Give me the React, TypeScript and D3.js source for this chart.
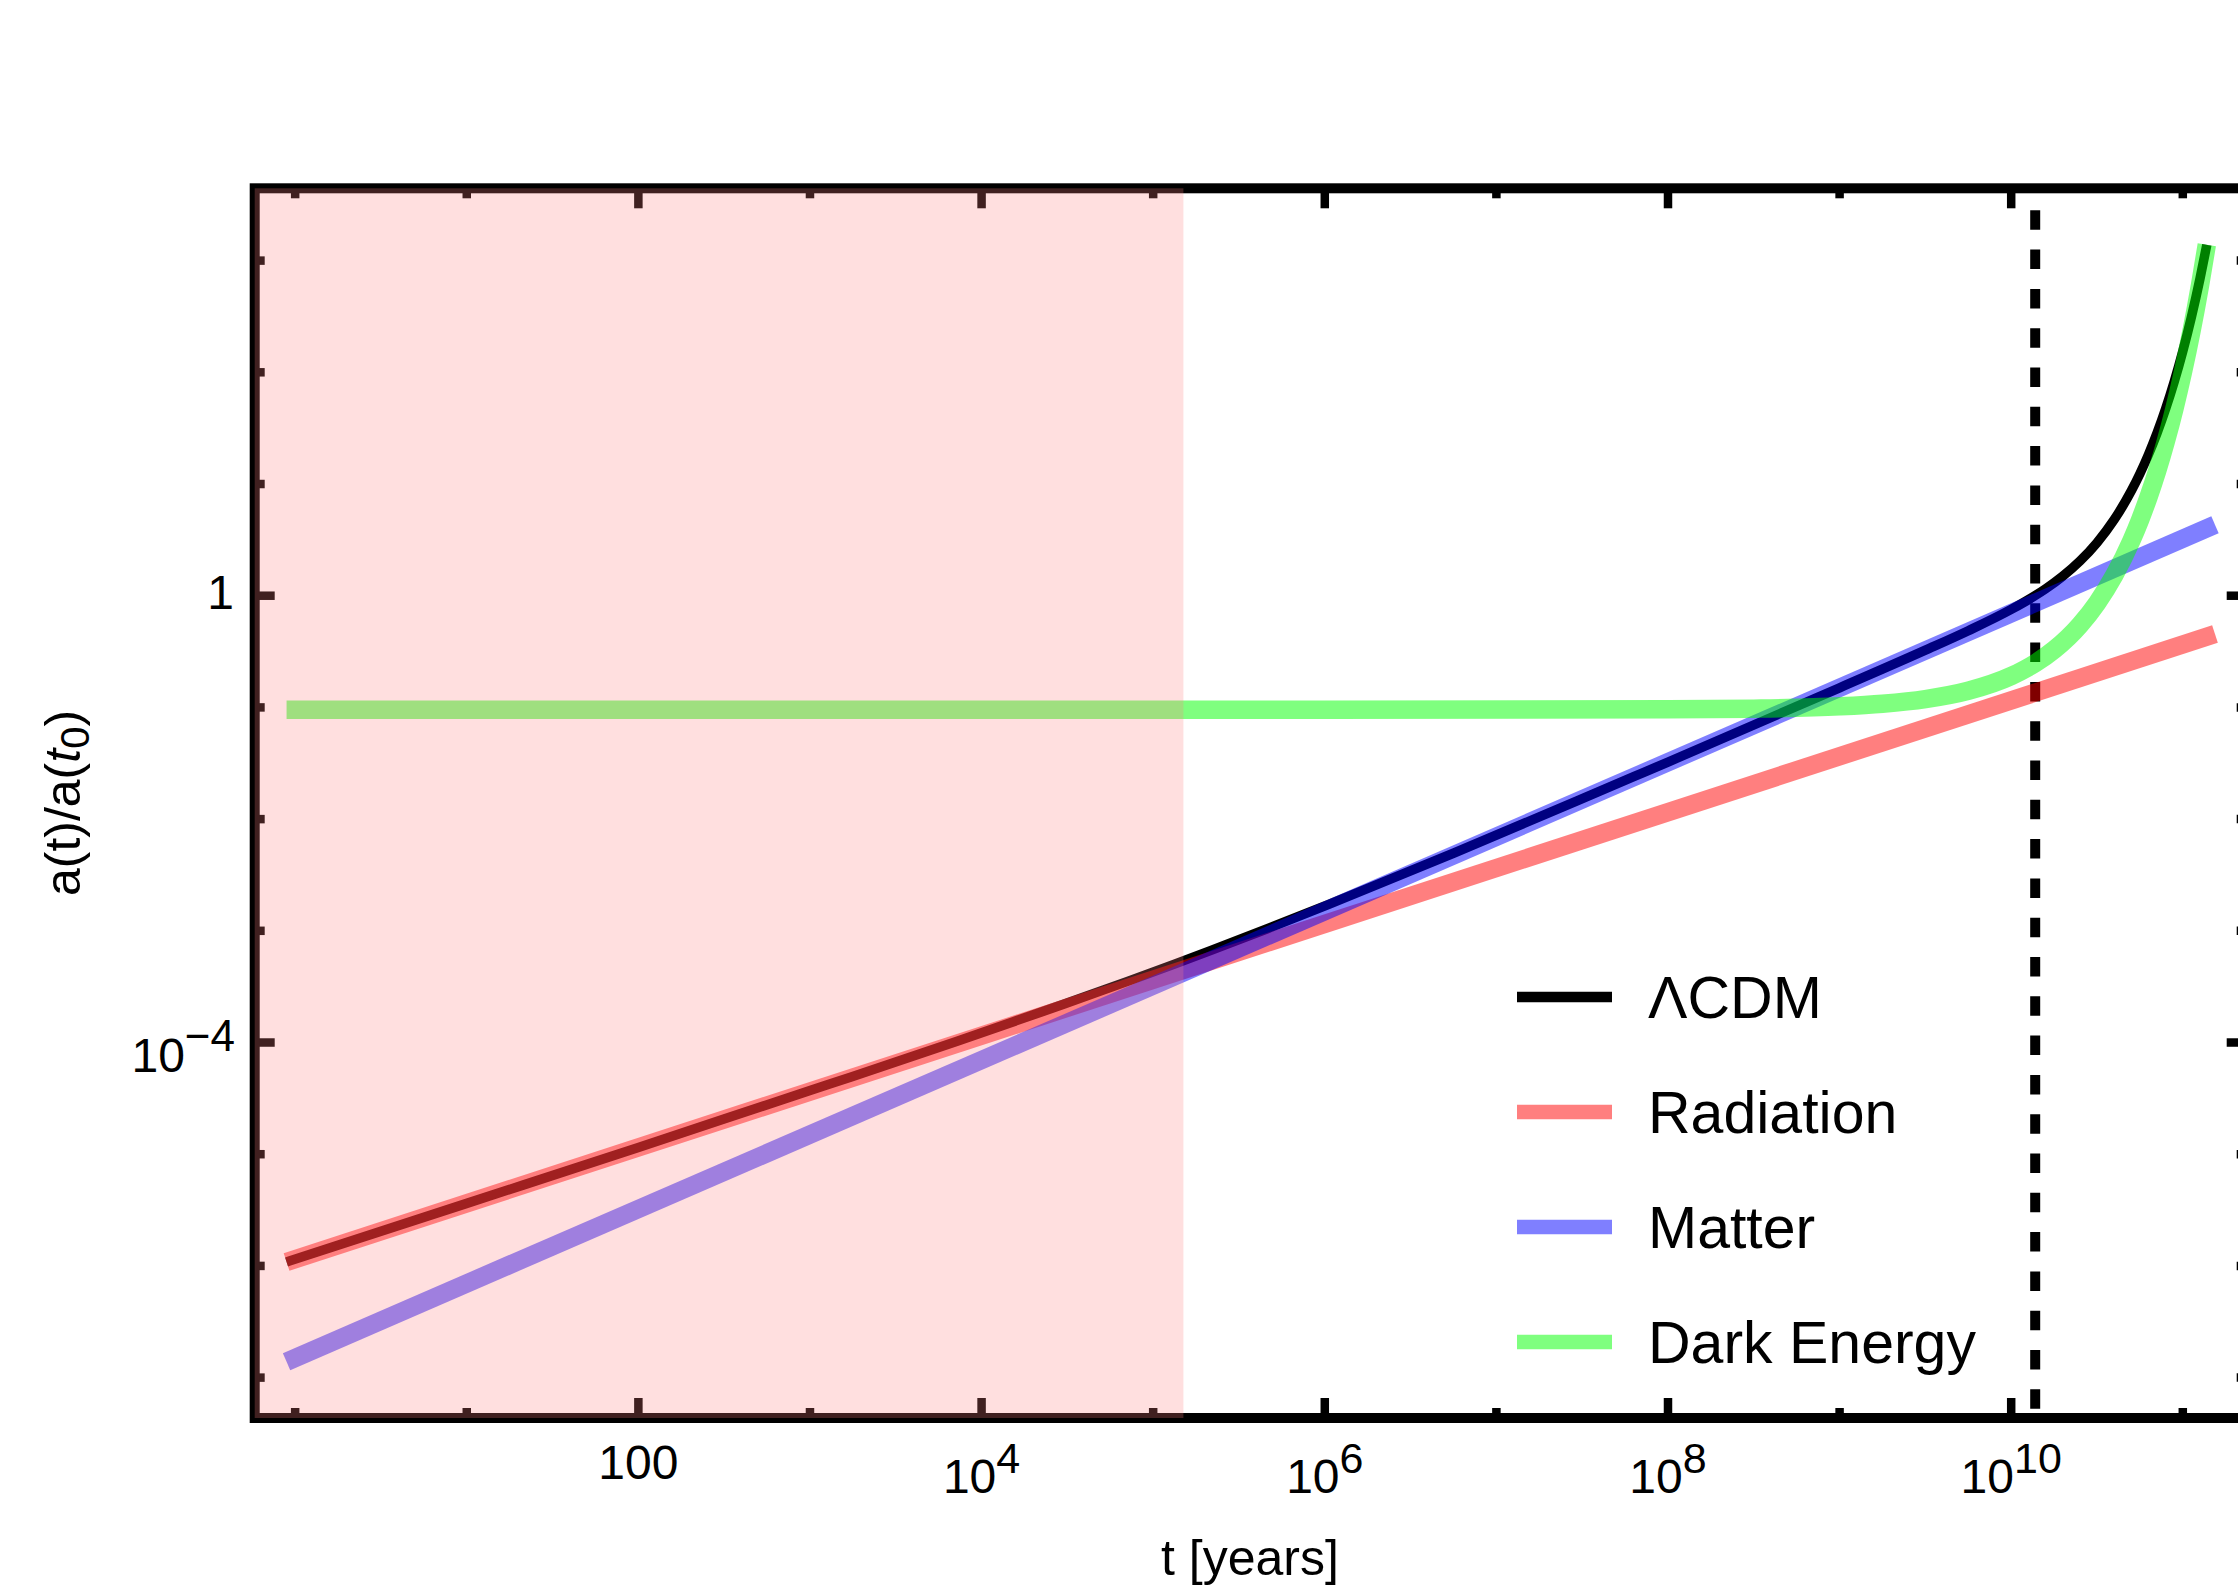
import React from "react";
import * as d3 from "d3";

// ---- chart values -------------------------------------------------------

// plotted ranges: cosmic time t [years] and scale factor a(t)/a(t0)
const timeDomain: [number, number] = [0.581, 2.357e11];
const scaleDomain: [number, number] = [4.35e-8, 4440];

// axis ticks
const majorTimeTicks = [1e2, 1e4, 1e6, 1e8, 1e10];
const majorTimeLabels: [string, string][] = [
  ["100", ""],
  ["10", "4"],
  ["10", "6"],
  ["10", "8"],
  ["10", "10"],
];
const minorTimeTicks = [1, 1e1, 1e3, 1e5, 1e7, 1e9, 1e11];
const majorScaleTicks = [1, 1e-4];
const majorScaleLabels: [string, string][] = [
  ["1", ""],
  ["10", "\u22124"],
];
const minorScaleTicks = [1e-7, 1e-6, 1e-5, 1e-3, 1e-2, 1e-1, 1e1, 1e2, 1e3];

// ΛCDM scale factor, [t in years, a]
const lcdm: [number, number][] = [
  [0.891, 1.084e-6],
  [10, 3.63e-6],
  [100, 1.148e-5],
  [1000, 3.72e-5],
  [1755, 4.939e-5],
  [7204, 1.0265e-4],
  [30307, 2.208e-4],
  [71539, 3.5445e-4],
  [1.3313e5, 5.036e-4],
  [2.1732e5, 6.6825e-4],
  [4.624e5, 1.044e-3],
  [1.0553e6, 1.724e-3],
  [5.709e6, 4.998e-3],
  [6.358e7, 0.02412],
  [1e8, 0.03243],
  [1e9, 0.1499],
  [3.162e9, 0.3254],
  [5.623e9, 0.4862],
  [1e10, 0.7541],
  [1.38e10, 1.003],
  [1.585e10, 1.151],
  [1.995e10, 1.4925],
  [2.512e10, 2.036],
  [3.162e10, 2.98],
  [3.981e10, 4.791],
  [5.012e10, 8.69],
  [5.623e10, 12.36],
  [6.31e10, 18.37],
  [7.079e10, 28.62],
  [7.943e10, 47.13],
  [8.913e10, 82.45],
  [1e11, 154.4],
  [1.122e11, 312.2],
  [1.259e11, 687.6],
  [1.38e11, 1382],
];

// single-component solutions
const radiation: [number, number][] = [
  [0.891, 1.084e-6],
  [1.54e11, 0.454],
];
const matter: [number, number][] = [
  [0.891, 1.39e-7],
  [1.54e11, 4.31],
];
const darkEnergy: [number, number][] = [
  [0.891, 0.0954],
  [1e6, 0.0954],
  [1e8, 0.09606],
  [3.162e8, 0.09752],
  [1e9, 0.10226],
  [1.778e9, 0.10794],
  [3.162e9, 0.11883],
  [5.623e9, 0.14101],
  [1e10, 0.19108],
  [1.38e10, 0.2488],
  [1.778e10, 0.328],
  [2.512e10, 0.5459],
  [3.162e10, 0.858],
  [3.981e10, 1.515],
  [5.012e10, 3.0986],
  [5.623e10, 4.737],
  [6.31e10, 7.633],
  [7.079e10, 13.02],
  [7.943e10, 23.73],
  [8.913e10, 46.53],
  [1e11, 99.0],
  [1.122e11, 230.8],
  [1.259e11, 597.8],
  [1.38e11, 1386],
];

// age of the universe today and end of the radiation-dominated band
const todayAge = 1.38e10;
const radiationEraEnd = 1.5e5;

const legendLabels = ["\u039BCDM", "Radiation", "Matter", "Dark Energy"];

// ---- styling --------------------------------------------------------------

const FONT = "'Liberation Sans', Arial, Helvetica, sans-serif";
const W = 2238;
const H = 1592;
const PLOT = { left: 254.7, right: 2246.7, top: 188.3, bottom: 1418 };

const seriesStyle = [
  { color: "#000000", opacity: 1, width: 9.5, legendWidth: 10.5 },
  { color: "#ff0000", opacity: 0.5, width: 18.5, legendWidth: 14.5 },
  { color: "#0000ff", opacity: 0.5, width: 18.5, legendWidth: 14.5 },
  { color: "#00ff00", opacity: 0.5, width: 18.5, legendWidth: 14.5 },
];

export default function App() {
  const x = d3.scaleLog().domain(timeDomain).range([PLOT.left, PLOT.right]);
  const y = d3.scaleLog().domain(scaleDomain).range([PLOT.bottom, PLOT.top]);

  const smooth = d3
    .line<[number, number]>()
    .x((d) => x(d[0]))
    .y((d) => y(d[1]))
    .curve(d3.curveMonotoneX);
  const straight = d3
    .line<[number, number]>()
    .x((d) => x(d[0]))
    .y((d) => y(d[1]));

  const tickW = 8.5;
  const majorLen = 20;
  const minorLen = 10;

  const xTicks = [
    ...majorTimeTicks.map((v) => ({ v, len: majorLen })),
    ...minorTimeTicks.map((v) => ({ v, len: minorLen })),
  ];
  const yTicks = [
    ...majorScaleTicks.map((v) => ({ v, len: majorLen })),
    ...minorScaleTicks.map((v) => ({ v, len: minorLen })),
  ];

  const xToday = x(todayAge);

  const legendRowY = [997, 1112, 1227, 1342];
  const legendX0 = 1517;
  const legendX1 = 1612;
  const legendTextX = 1648;

  return (
    <svg
      width={W}
      height={H}
      viewBox={`0 0 ${W} ${H}`}
      style={{ position: "absolute", left: 0, top: 0, background: "#fff" }}
    >
      <rect x={0} y={0} width={W} height={H} fill="#fff" />

      {/* frame */}
      <rect
        x={PLOT.left}
        y={PLOT.top}
        width={PLOT.right - PLOT.left}
        height={PLOT.bottom - PLOT.top}
        fill="none"
        stroke="#000"
        strokeWidth={10}
      />

      {/* ticks on all four sides */}
      <g stroke="#000" strokeWidth={tickW}>
        {xTicks.map(({ v, len }, i) => (
          <g key={`xt${i}`}>
            <line x1={x(v)} x2={x(v)} y1={PLOT.bottom} y2={PLOT.bottom - len} />
            <line x1={x(v)} x2={x(v)} y1={PLOT.top} y2={PLOT.top + len} />
          </g>
        ))}
        {yTicks.map(({ v, len }, i) => (
          <g key={`yt${i}`}>
            <line x1={PLOT.left} x2={PLOT.left + len} y1={y(v)} y2={y(v)} />
            <line x1={PLOT.right} x2={PLOT.right - len} y1={y(v)} y2={y(v)} />
          </g>
        ))}
      </g>

      {/* today */}
      <line
        x1={xToday}
        x2={xToday}
        y1={PLOT.top}
        y2={PLOT.bottom}
        stroke="#000"
        strokeWidth={10}
        strokeDasharray="19.5 19.8"
        strokeDashoffset={17.3}
      />

      {/* curves */}
      <g fill="none" strokeLinecap="butt" strokeLinejoin="round">
        <path
          d={smooth(lcdm) || ""}
          stroke={seriesStyle[0].color}
          strokeWidth={seriesStyle[0].width}
        />
        <path
          d={straight(radiation) || ""}
          stroke={seriesStyle[1].color}
          strokeOpacity={seriesStyle[1].opacity}
          strokeWidth={seriesStyle[1].width}
        />
        <path
          d={straight(matter) || ""}
          stroke={seriesStyle[2].color}
          strokeOpacity={seriesStyle[2].opacity}
          strokeWidth={seriesStyle[2].width}
        />
        <path
          d={smooth(darkEnergy) || ""}
          stroke={seriesStyle[3].color}
          strokeOpacity={seriesStyle[3].opacity}
          strokeWidth={seriesStyle[3].width}
        />
      </g>

      {/* radiation-dominated era band */}
      <rect
        x={x(timeDomain[0])}
        y={y(scaleDomain[1])}
        width={x(radiationEraEnd) - x(timeDomain[0])}
        height={y(scaleDomain[0]) - y(scaleDomain[1])}
        fill="rgb(255,128,128)"
        fillOpacity={0.25}
      />

      {/* x tick labels */}
      <g fontFamily={FONT} fill="#000" textAnchor="middle">
        {majorTimeTicks.map((v, i) => {
          const [base, sup] = majorTimeLabels[i];
          return sup ? (
            <text key={`xl${i}`} x={x(v)} y={1493} fontSize={48}>
              {base}
              <tspan fontSize={43} dy={-20}>
                {sup}
              </tspan>
            </text>
          ) : (
            <text key={`xl${i}`} x={x(v)} y={1479} fontSize={48}>
              {base}
            </text>
          );
        })}
      </g>

      {/* y tick labels */}
      <g fontFamily={FONT} fill="#000" textAnchor="end">
        {majorScaleTicks.map((v, i) => {
          const [base, sup] = majorScaleLabels[i];
          return sup ? (
            <text key={`yl${i}`} x={235} y={y(v) + 29} fontSize={48}>
              {base}
              <tspan fontSize={44} dy={-21}>
                {sup}
              </tspan>
            </text>
          ) : (
            <text key={`yl${i}`} x={234} y={y(v) + 13} fontSize={48}>
              {base}
            </text>
          );
        })}
      </g>

      {/* axis titles */}
      <text
        x={1250}
        y={1575}
        fontFamily={FONT}
        fontSize={50}
        textAnchor="middle"
        fill="#000"
      >
        t [years]
      </text>
      <text
        transform="translate(80,803) rotate(-90)"
        fontFamily={FONT}
        fontSize={50}
        textAnchor="middle"
        fill="#000"
      >
        a(t)/a(
        <tspan fontStyle="italic">t</tspan>
        <tspan fontSize={40} dy={9}>
          0
        </tspan>
        <tspan dy={-9}>)</tspan>
      </text>

      {/* legend */}
      <g fontFamily={FONT} fontSize={59} fill="#000">
        {legendLabels.map((label, i) => (
          <g key={label}>
            <line
              x1={legendX0}
              x2={legendX1}
              y1={legendRowY[i]}
              y2={legendRowY[i]}
              stroke={seriesStyle[i].color}
              strokeOpacity={seriesStyle[i].opacity}
              strokeWidth={seriesStyle[i].legendWidth}
            />
            <text x={legendTextX} y={legendRowY[i] + 21}>
              {label}
            </text>
          </g>
        ))}
      </g>
    </svg>
  );
}
